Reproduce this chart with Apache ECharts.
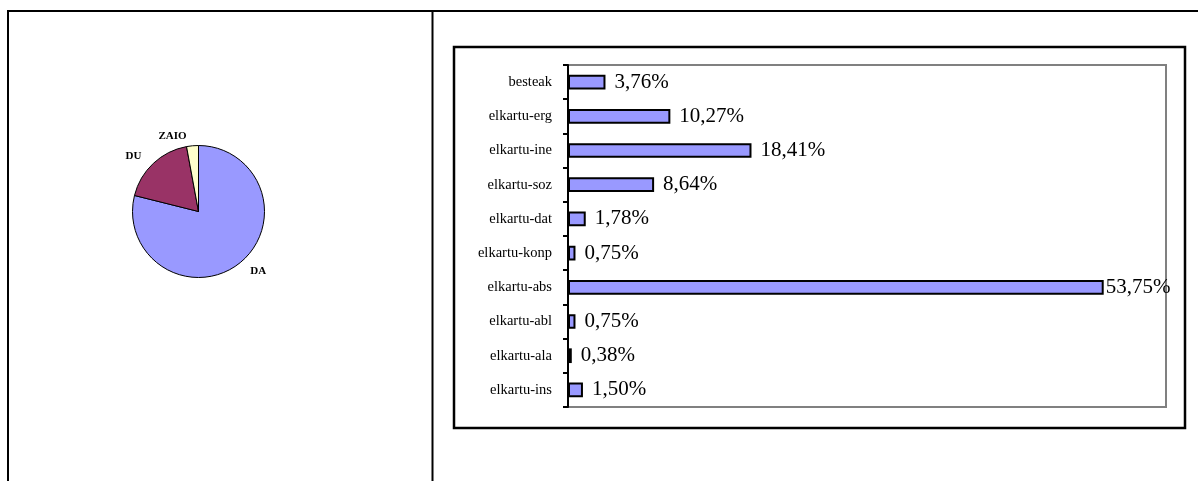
<!DOCTYPE html>
<html>
<head>
<meta charset="utf-8">
<script src="https://cdn.jsdelivr.net/npm/echarts@6/dist/echarts.min.js"></script>
<style>
html,body{margin:0;padding:0;background:#fff;}
#c{width:1198px;height:481px;}
</style>
</head>
<body>
<div id="c"></div>
<script>
// ---- data ----
const pieNames = ['DA', 'DU', 'ZAIO'];
const pieValues = [78.9, 18.2, 2.9];
const pieColors = ['#9999ff', '#993366', '#ffffcc'];

const barCategories = ['besteak', 'elkartu-erg', 'elkartu-ine', 'elkartu-soz', 'elkartu-dat',
  'elkartu-konp', 'elkartu-abs', 'elkartu-abl', 'elkartu-ala', 'elkartu-ins'];
const barValues = [3.76, 10.27, 18.41, 8.64, 1.78, 0.75, 53.75, 0.75, 0.38, 1.50];

const serif = "'Liberation Serif', 'Times New Roman', serif";

const chart = echarts.init(document.getElementById('c'), null, {renderer: 'canvas'});

const pieData = pieNames.map((n, i) => ({name: n, value: pieValues[i], itemStyle: {color: pieColors[i]}}));
const barData = barValues.map(v => v > 50 ? {value: v, label: {distance: 2}} : {value: v});

const option = {
  backgroundColor: '#fff',
  animation: false,
  graphic: [
    // outer table frame
    {type: 'line', shape: {x1: 7, y1: 11, x2: 1198, y2: 11}, style: {stroke: '#000', lineWidth: 2}},
    {type: 'line', shape: {x1: 8, y1: 11, x2: 8, y2: 481}, style: {stroke: '#000', lineWidth: 2}},
    {type: 'line', shape: {x1: 432.5, y1: 11, x2: 432.5, y2: 481}, style: {stroke: '#000', lineWidth: 2}},
    // bar chart box
    {type: 'rect', shape: {x: 454, y: 47, width: 731, height: 381}, style: {fill: 'none', stroke: '#000', lineWidth: 2.5}}
  ],
  grid: {
    left: 568, top: 65, width: 598, height: 342,
    show: true, borderColor: '#808080', borderWidth: 2, backgroundColor: 'transparent'
  },
  xAxis: {
    type: 'value', min: 0, max: 60, show: false
  },
  yAxis: {
    type: 'category', inverse: true, data: barCategories,
    axisLine: {show: true, lineStyle: {color: '#000', width: 2}},
    axisTick: {show: true, length: 5, lineStyle: {color: '#000', width: 2}},
    axisLabel: {color: '#000', fontFamily: serif, fontSize: 14.5, margin: 16},
    splitLine: {show: false}
  },
  series: [
    {
      type: 'bar',
      data: barData,
      barWidth: '43%',
      itemStyle: {color: '#9999ff', borderColor: '#000', borderWidth: 2},
      label: {
        show: true, position: 'right', distance: 9,
        color: '#000', fontFamily: serif, fontSize: 21,
        formatter: p => p.value.toFixed(2).replace('.', ',') + '%'
      },
      z: 3
    },
    {
      type: 'pie',
      center: [198.5, 211.5],
      radius: 66,
      startAngle: 90,
      clockwise: true,
      data: pieData,
      itemStyle: {borderColor: '#000', borderWidth: 1},
      label: {
        show: true, position: 'outside', color: '#000',
        fontFamily: serif, fontSize: 11, fontWeight: 'bold',
        formatter: '{b}'
      },
      labelLine: {show: false, length: 10, length2: 0},
      emphasis: {disabled: true}
    }
  ]
};
chart.setOption(option);
</script>
</body>
</html>
